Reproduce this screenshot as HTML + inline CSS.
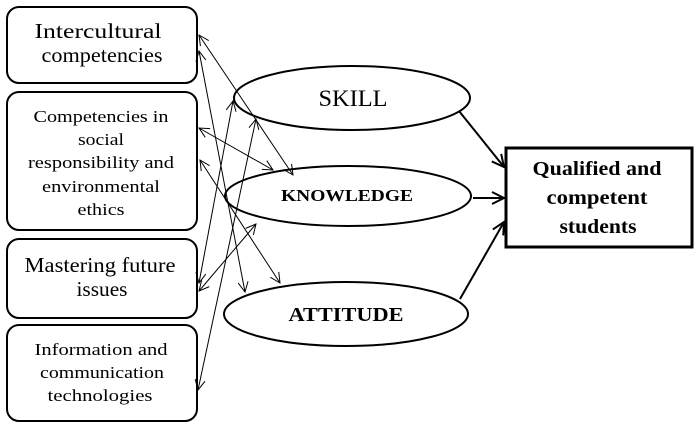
<!DOCTYPE html>
<html><head><meta charset="utf-8"><style>
body{margin:0;background:#fff}
svg text{font-family:"Liberation Serif",serif;fill:#000}
</style></head><body>
<svg width="698" height="428" viewBox="0 0 698 428" xmlns="http://www.w3.org/2000/svg">
<defs>
<marker id="a" markerWidth="12" markerHeight="12" refX="11" refY="6" orient="auto-start-reverse" markerUnits="userSpaceOnUse">
<path d="M1,1 L11,6 L1,11" fill="none" stroke="#000" stroke-width="1"/></marker>
<marker id="b" markerWidth="16" markerHeight="16" refX="14" refY="8" orient="auto" markerUnits="userSpaceOnUse">
<path d="M2,2 L14,8 L2,14" fill="none" stroke="#000" stroke-width="2"/></marker>
</defs>
<g fill="none" stroke="#000" stroke-width="2">
<rect x="7" y="7" width="190" height="76" rx="12"/>
<rect x="7" y="92" width="190" height="138" rx="12"/>
<rect x="7" y="239" width="190" height="79" rx="12"/>
<rect x="7" y="325" width="190" height="96" rx="12"/>
<ellipse cx="352" cy="98" rx="118" ry="32"/>
<ellipse cx="348" cy="196" rx="123" ry="30"/>
<ellipse cx="346" cy="314" rx="122" ry="32"/>
<rect x="506" y="148" width="186" height="99" stroke-width="3"/>
</g>
<g stroke="#000" stroke-width="1" fill="none" marker-start="url(#a)" marker-end="url(#a)">
<line x1="199" y1="35" x2="293" y2="175"/>
<line x1="199" y1="51" x2="245" y2="292"/>
<line x1="199" y1="128" x2="273" y2="170"/>
<line x1="200" y1="160" x2="280" y2="283"/>
<line x1="233" y1="101" x2="199" y2="283"/>
<line x1="256" y1="119" x2="198" y2="390"/>
<line x1="256" y1="224" x2="199" y2="291"/>
</g>
<g stroke="#000" stroke-width="2" fill="none" marker-end="url(#b)">
<line x1="459" y1="111" x2="504" y2="167"/>
<line x1="473" y1="198" x2="504" y2="198"/>
<line x1="460" y1="299" x2="504" y2="222"/>
</g>
<g text-anchor="middle">
<text x="98" y="38" font-size="21" textLength="127" lengthAdjust="spacingAndGlyphs">Intercultural</text>
<text x="102" y="62" font-size="21" textLength="121" lengthAdjust="spacingAndGlyphs">competencies</text>
<text x="101" y="122" font-size="17" textLength="135" lengthAdjust="spacingAndGlyphs">Competencies in</text>
<text x="101" y="145" font-size="17" textLength="46" lengthAdjust="spacingAndGlyphs">social</text>
<text x="101" y="168" font-size="17" textLength="146" lengthAdjust="spacingAndGlyphs">responsibility and</text>
<text x="101" y="192" font-size="17" textLength="118" lengthAdjust="spacingAndGlyphs">environmental</text>
<text x="101" y="215" font-size="17" textLength="47" lengthAdjust="spacingAndGlyphs">ethics</text>
<text x="100" y="272" font-size="21" textLength="151" lengthAdjust="spacingAndGlyphs">Mastering future</text>
<text x="102" y="296" font-size="21" textLength="51" lengthAdjust="spacingAndGlyphs">issues</text>
<text x="101" y="355" font-size="17" textLength="133" lengthAdjust="spacingAndGlyphs">Information and</text>
<text x="102" y="378" font-size="17" textLength="124" lengthAdjust="spacingAndGlyphs">communication</text>
<text x="100" y="401" font-size="17" textLength="105" lengthAdjust="spacingAndGlyphs">technologies</text>
<text x="353" y="106" font-size="23" textLength="69" lengthAdjust="spacingAndGlyphs">SKILL</text>
<text x="347" y="201" font-size="17" font-weight="bold" textLength="132" lengthAdjust="spacingAndGlyphs">KNOWLEDGE</text>
<text x="346" y="321" font-size="20" font-weight="bold" textLength="115" lengthAdjust="spacingAndGlyphs">ATTITUDE</text>
<text x="597" y="175" font-size="20" font-weight="bold" textLength="129" lengthAdjust="spacingAndGlyphs">Qualified and</text>
<text x="597" y="204" font-size="20" font-weight="bold" textLength="101" lengthAdjust="spacingAndGlyphs">competent</text>
<text x="598" y="233" font-size="20" font-weight="bold" textLength="77" lengthAdjust="spacingAndGlyphs">students</text>
</g>
</svg>
</body></html>
